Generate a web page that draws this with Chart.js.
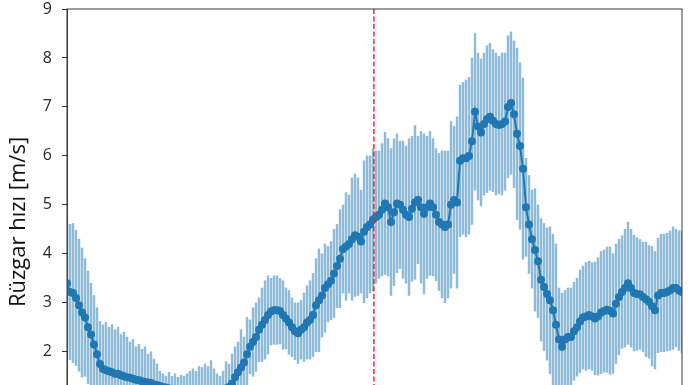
<!DOCTYPE html>
<html>
<head>
<meta charset="utf-8">
<script src="https://cdn.jsdelivr.net/npm/chart.js@4.4.1/dist/chart.umd.min.js"></script>
<style>
  html, body { margin: 0; padding: 0; background: #fff; overflow: hidden; }
  #wrap { width: 696px; height: 444px; }
</style>
</head>
<body>
<div id="wrap"><canvas id="windChart" width="696" height="444"></canvas></div>
<script>
// mean wind speed per step (m/s)
const meanSpeed = [
  3.40, 3.22, 3.20, 3.10, 2.95, 2.80, 2.70, 2.50, 2.35, 2.15,
  1.95, 1.75, 1.65, 1.62, 1.60, 1.58, 1.55, 1.55, 1.52, 1.50,
  1.48, 1.47, 1.45, 1.43, 1.42, 1.40, 1.38, 1.37, 1.36, 1.33,
  1.32, 1.30, 1.28, 1.27, 1.25, 1.24, 1.22, 1.22, 1.20, 1.20,
  1.18, 1.17, 1.16, 1.15, 1.15, 1.16, 1.17, 1.18, 1.19, 1.20,
  1.20, 1.20, 1.22, 1.25, 1.28, 1.35, 1.48, 1.58, 1.68, 1.78,
  1.95, 2.10, 2.20, 2.30, 2.45, 2.55, 2.65, 2.75, 2.82, 2.85,
  2.85, 2.83, 2.75, 2.68, 2.60, 2.50, 2.42, 2.38, 2.45, 2.50,
  2.60, 2.65, 2.75, 2.95, 3.05, 3.15, 3.30, 3.38, 3.45, 3.60,
  3.75, 3.90, 4.10, 4.15, 4.20, 4.30, 4.38, 4.35, 4.25, 4.45,
  4.55, 4.60, 4.70, 4.75, 4.80, 4.90, 5.03, 4.95, 4.65, 4.85,
  5.03, 5.00, 4.90, 4.80, 4.75, 4.92, 5.05, 5.10, 4.95, 4.82,
  4.95, 5.03, 4.95, 4.80, 4.65, 4.60, 4.55, 4.60, 5.00, 5.10,
  5.05, 5.90, 5.95, 5.95, 6.00, 6.30, 6.90, 6.60, 6.48, 6.65,
  6.75, 6.80, 6.72, 6.65, 6.63, 6.65, 6.70, 7.00, 7.08, 6.85,
  6.45, 6.20, 5.74, 4.95, 4.60, 4.30, 4.08, 3.85, 3.47, 3.32,
  3.18, 3.05, 2.85, 2.55, 2.25, 2.10, 2.25, 2.30, 2.30, 2.42,
  2.50, 2.62, 2.70, 2.72, 2.75, 2.72, 2.68, 2.72, 2.80, 2.83,
  2.86, 2.84, 2.78, 2.98, 3.12, 3.22, 3.30, 3.40, 3.30, 3.20,
  3.18, 3.17, 3.12, 3.07, 3.02, 2.93, 2.85, 3.15, 3.20, 3.20,
  3.22, 3.25, 3.30, 3.30, 3.25, 3.22
];

// standard deviation per step (m/s)
const sdSpeed = [
  1.40, 1.38, 1.42, 1.38, 1.35, 1.32, 1.20, 1.15, 1.05, 1.00,
  0.95, 0.87, 0.90, 0.98, 0.90, 0.97, 0.90, 0.95, 0.83, 0.90,
  0.82, 0.73, 0.80, 0.67, 0.73, 0.65, 0.72, 0.58, 0.64, 0.52,
  0.43, 0.30, 0.27, 0.23, 0.33, 0.26, 0.33, 0.26, 0.32, 0.30,
  0.37, 0.43, 0.49, 0.45, 0.55, 0.52, 0.58, 0.52, 0.63, 0.45,
  0.35, 0.30, 0.38, 0.55, 0.47, 0.60, 0.62, 0.62, 0.77, 0.52,
  0.75, 0.55, 0.70, 0.70, 0.65, 0.75, 0.80, 0.80, 0.68, 0.70,
  0.70, 0.67, 0.70, 0.62, 0.65, 0.60, 0.58, 0.62, 0.60, 0.70,
  0.75, 0.80, 0.85, 0.95, 1.05, 0.85, 0.90, 0.77, 0.80, 0.90,
  0.85, 1.00, 0.90, 1.10, 1.00, 1.25, 1.25, 1.20, 1.05, 1.45,
  1.45, 1.40, 1.45, 1.35, 1.30, 1.35, 1.45, 1.40, 1.50, 1.50,
  1.42, 1.30, 1.40, 1.40, 1.60, 1.48, 1.57, 1.30, 1.55, 1.63,
  1.45, 1.47, 1.40, 1.35, 1.40, 1.50, 1.55, 1.50, 1.70, 1.50,
  1.75, 1.55, 1.55, 1.60, 1.60, 1.70, 1.60, 1.50, 1.50, 1.45,
  1.50, 1.50, 1.45, 1.45, 1.40, 1.45, 1.40, 1.45, 1.45, 1.50,
  1.75, 1.70, 1.85, 1.00, 1.00, 1.00, 1.25, 1.15, 1.25, 1.30,
  1.35, 1.50, 1.55, 1.65, 1.05, 1.10, 1.00, 1.00, 1.00, 1.00,
  1.00, 1.05, 1.05, 1.10, 1.10, 1.10, 1.15, 1.20, 1.25, 1.25,
  1.28, 1.30, 1.22, 1.22, 1.18, 1.15, 1.20, 1.25, 1.20, 1.18,
  1.15, 1.12, 1.12, 1.17, 1.15, 1.22, 1.20, 1.17, 1.20, 1.20,
  1.20, 1.22, 1.25, 1.20, 1.22, 1.25
];

const steps = meanSpeed.map((_, i) => i);
const splitStep = 102.3;     // red dashed marker position (step index)
const yRange = [0.3, 9];

// frame around plot area (top/right spines like matplotlib)
const framePlugin = {
  id: 'frame',
  afterDraw(chart) {
    const { ctx, chartArea: a } = chart;
    ctx.save();
    ctx.strokeStyle = '#3a3a3a';
    ctx.lineWidth = 1;
    ctx.strokeRect(a.left, a.top, a.right - a.left, a.bottom - a.top);
    ctx.restore();
  }
};

// vertical red dashed line
const splitLinePlugin = {
  id: 'splitLine',
  afterDatasetsDraw(chart) {
    const { ctx, chartArea: a, scales } = chart;
    const x = scales.x.getPixelForValue(splitStep);
    ctx.save();
    ctx.strokeStyle = '#f22';
    ctx.lineWidth = 1.5;
    ctx.setLineDash([5, 2.5]);
    ctx.beginPath();
    ctx.moveTo(x, a.top);
    ctx.lineTo(x, a.bottom);
    ctx.stroke();
    ctx.restore();
  }
};

new Chart(document.getElementById('windChart'), {
  type: 'bar',
  data: {
    labels: steps,
    datasets: [
      {
        type: 'line',
        data: meanSpeed,
        borderColor: '#1f77b4',
        borderWidth: 2,
        pointRadius: 4,
        pointBackgroundColor: '#1f77b4',
        pointBorderWidth: 0,
        tension: 0,
        clip: 0,
        order: 1
      },
      {
        type: 'bar',
        data: meanSpeed.map((m, i) => [m - sdSpeed[i], m + sdSpeed[i]]),
        backgroundColor: 'rgba(31, 119, 180, 0.5)',
        barThickness: 1.8,
        clip: 0,
        order: 2
      }
    ]
  },
  options: {
    responsive: false,
    animation: false,
    layout: { padding: { top: 9, right: 14, bottom: 9, left: 0 } },
    plugins: { legend: { display: false }, tooltip: { enabled: false } },
    scales: {
      x: { type: 'category', display: false, offset: false },
      y: {
        min: yRange[0],
        max: yRange[1],
        afterFit: (scale) => {
          scale.width = 67;
          scale.paddingTop = 0;
          scale.paddingBottom = 0;
        },
        ticks: {
          stepSize: 1,
          padding: 10,
          color: '#262626',
          font: { family: 'Open Sans', size: 16, lineHeight: 1 },
          callback: (v) => Number.isInteger(v) ? v : ''
        },
        grid: { drawOnChartArea: false, tickLength: 5, color: '#333', tickColor: '#333' },
        border: { color: '#3a3a3a', width: 1 },
        title: {
          display: true,
          text: 'Rüzgar hızı [m/s]',
          color: '#111',
          font: { family: 'Open Sans', size: 22 },
          padding: { top: 6, bottom: 0 }
        }
      }
    }
  },
  plugins: [framePlugin, splitLinePlugin]
});
</script>
</body>
</html>
